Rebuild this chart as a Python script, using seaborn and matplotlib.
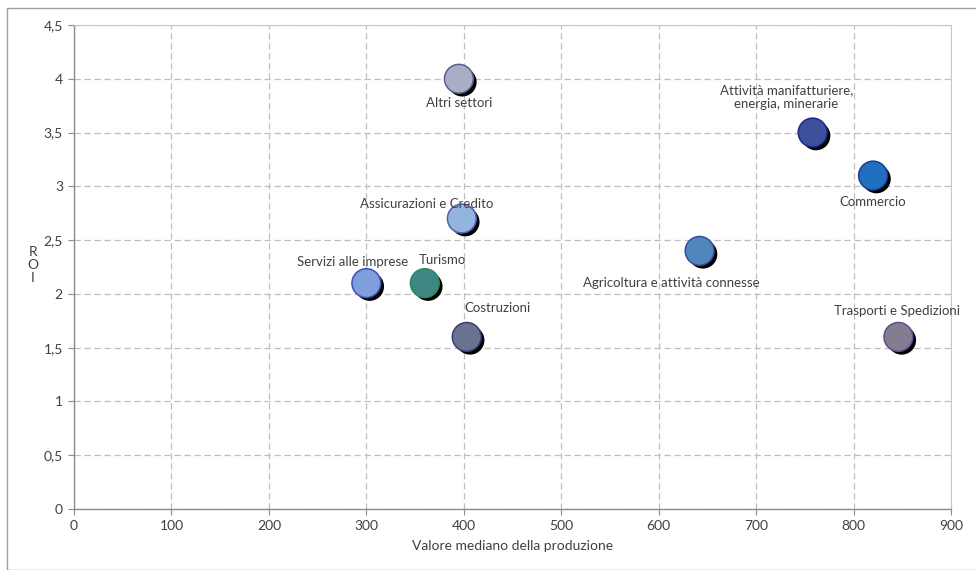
import matplotlib
matplotlib.use("Agg")
import matplotlib.pyplot as plt
import matplotlib.patheffects as pe
from matplotlib.ticker import FuncFormatter
import seaborn as sns
import pandas as pd

# Sectors: median production value vs ROI
settori = [
    "Altri settori",
    "Attività manifatturiere,\nenergia, minerarie",
    "Commercio",
    "Assicurazioni e Credito",
    "Agricoltura e attività connesse",
    "Servizi alle imprese",
    "Turismo",
    "Costruzioni",
    "Trasporti e Spedizioni",
]
produzione = [395, 758, 820, 398, 642, 300, 360, 403, 846]
roi = [4.0, 3.5, 3.1, 2.7, 2.4, 2.1, 2.1, 1.6, 1.6]
colori = ["#A7AEC6", "#3E4F9E", "#2170C0", "#93B4DC", "#4F86BE",
          "#7F9EDC", "#3D8787", "#69728F", "#867C91"]
bordi = ["#5A5F90", "#1E2A80", "#1A3F90", "#4F5FA8", "#3A4F98",
         "#4050B0", "#2A8A5A", "#3A3F70", "#5A508A"]

# label offsets (points) for each sector
offsets = [(0, -17.5), (-19, 25.5), (0, -19), (-25, 10.5), (-20.5, -23),
           (-10, 15.5), (13, 16.5), (22, 20.5), (-1, 19)]

df = pd.DataFrame({"settore": settori, "produzione": produzione, "roi": roi})

sns.set_theme(style="white")
plt.rcParams["font.family"] = ["Lato", "DejaVu Sans"]

fig = plt.figure(figsize=(9.76, 5.70), dpi=100)
ax = fig.add_axes([74 / 976, 61 / 570, (951 - 74) / 976, (509 - 25) / 570])

sns.scatterplot(
    data=df, x="produzione", y="roi", hue="settore",
    palette=dict(zip(settori, colori)), s=430, legend=False,
    linewidth=1.1, edgecolor=bordi, ax=ax, zorder=3,
)
coll = ax.collections[0]
coll.set_path_effects([
    pe.SimplePatchShadow(offset=(2.4, -2.4), shadow_rgbFace="black", alpha=1.0),
    pe.Normal(),
])

for name, x, y, (dx, dy) in zip(settori, produzione, roi, offsets):
    ax.annotate(name, (x, y), xytext=(dx, dy), textcoords="offset points",
                ha="center", va="center", fontsize=9.5, color="#404040",
                linespacing=1.25, zorder=4)

ax.set_xlim(0, 900)
ax.set_ylim(0, 4.5)
ax.set_xticks(range(0, 901, 100))
ax.set_yticks([i * 0.5 for i in range(10)])
ax.yaxis.set_major_formatter(FuncFormatter(lambda v, p: f"{v:g}".replace(".", ",")))

ax.grid(True, linestyle=(0, (5, 3)), color="#BFBFBF", linewidth=0.9)
ax.set_axisbelow(True)
for side in ["left", "bottom"]:
    ax.spines[side].set_color("#8C8C8C")
    ax.spines[side].set_linewidth(1.0)
for side in ["top", "right"]:
    ax.spines[side].set_color("#C8C8C8")
    ax.spines[side].set_linewidth(0.8)

ax.tick_params(axis="both", which="major", length=4, width=0.8, color="#8C8C8C",
               labelsize=10, labelcolor="#404040", direction="out", pad=4)
ax.tick_params(axis="x", bottom=True)
ax.tick_params(axis="y", left=True)

ax.set_xlabel("Valore mediano della produzione", fontsize=10, color="#404040", labelpad=6)
ax.set_ylabel("")
fig.text(33 / 976, 1 - 265 / 570, "R\nO\nI", ha="center", va="center",
         fontsize=10, color="#404040", linespacing=1.05)

# outer frame of the chart area
fig.patches.append(plt.Rectangle((7 / 976, 0), 1.1, 1 - 8 / 570,
                                 transform=fig.transFigure, fill=False,
                                 edgecolor="#A0A0A0", linewidth=1.0))

fig.savefig("out.png", dpi=100)
